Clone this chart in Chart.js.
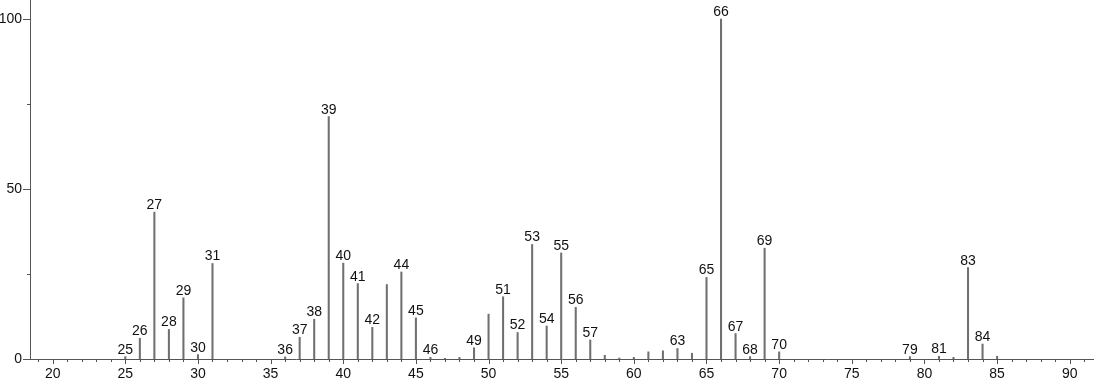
<!DOCTYPE html>
<html>
<head>
<meta charset="utf-8">
<script src="https://cdn.jsdelivr.net/npm/chart.js@4.4.1/dist/chart.umd.min.js"></script>
<style>
  html, body { margin: 0; padding: 0; background: #ffffff; }
  #wrap { width: 1094px; height: 384px; }
</style>
</head>
<body>
<div id="wrap"><canvas id="c" width="1094" height="384"></canvas></div>
<script>
// m/z values of the peaks
const mz = [25, 26, 27, 28, 29, 30, 31, 36, 37, 38, 39, 40, 41, 42, 43, 44, 45, 46, 47, 48,
            49, 50, 51, 52, 53, 54, 55, 56, 57, 58, 59, 60, 61, 62, 63, 64, 65, 66, 67, 68,
            69, 70, 79, 81, 82, 83, 84, 85];
// relative intensities (%)
const intensity = [0.7, 6.1, 43.2, 8.7, 18.0, 1.3, 28.1, 0.6, 6.4, 11.7, 71.3, 28.2, 22.2, 9.3, 21.9, 25.6, 12.1, 0.5, 0.2, 0.5,
                   3.3, 13.2, 18.3, 7.8, 33.7, 9.7, 31.2, 15.2, 5.6, 1.1, 0.3, 0.5, 2.1, 2.4, 3.1, 1.7, 24.0, 100, 7.5, 0.7,
                   32.6, 2.1, 0.7, 0.8, 0.5, 26.9, 4.4, 0.8];
// peaks that carry a label
const labeledPeaks = [25, 26, 27, 28, 29, 30, 31, 36, 37, 38, 39, 40, 41, 42, 44, 45, 46, 49, 51, 52,
                      53, 54, 55, 56, 57, 63, 65, 66, 67, 68, 69, 70, 79, 81, 83, 84];
// axis tick values
const xMajorTicks = [20, 25, 30, 35, 40, 45, 50, 55, 60, 65, 70, 75, 80, 85, 90];
const yTicks = [0, 25, 50, 75, 100];
const yLabeledTicks = [0, 50, 100];

const FONT = '"Liberation Sans", Arial, Helvetica, sans-serif';
const AXIS_COLOR = '#555555';
const TEXT_COLOR = '#111111';

function noPad(s) {
  s.paddingTop = 0; s.paddingBottom = 0; s.paddingLeft = 0; s.paddingRight = 0;
}

const tickMarks = {
  id: 'tickMarks',
  afterDraw(chart) {
    const ctx = chart.ctx;
    const xs = chart.scales.x, ys = chart.scales.y;
    const bottom = chart.chartArea.bottom, left = chart.chartArea.left;
    ctx.save();
    ctx.strokeStyle = AXIS_COLOR;
    ctx.lineWidth = 1;
    ctx.beginPath();
    for (let v = Math.ceil(xs.min); v <= Math.floor(xs.max); v++) {
      const px = Math.round(xs.getPixelForValue(v)) + 0.5;
      const len = xMajorTicks.includes(v) ? 5 : 3;
      ctx.moveTo(px, bottom);
      ctx.lineTo(px, bottom + len);
    }
    yTicks.forEach(v => {
      const py = Math.round(ys.getPixelForValue(v)) + 0.5;
      const len = yLabeledTicks.includes(v) ? 7 : 3;
      ctx.moveTo(left, py);
      ctx.lineTo(left - len, py);
    });
    ctx.stroke();
    ctx.restore();
  }
};

const peakLabels = {
  id: 'peakLabels',
  afterDatasetsDraw(chart) {
    const ctx = chart.ctx;
    const meta = chart.getDatasetMeta(0);
    ctx.save();
    ctx.font = '14px ' + FONT;
    ctx.fillStyle = TEXT_COLOR;
    ctx.textAlign = 'center';
    ctx.textBaseline = 'alphabetic';
    meta.data.forEach((bar, i) => {
      if (labeledPeaks.includes(mz[i])) {
        ctx.fillText(String(mz[i]), bar.x, bar.y - 3);
      }
    });
    ctx.restore();
  }
};

new Chart(document.getElementById('c'), {
  type: 'bar',
  data: {
    datasets: [{
      data: mz.map((m, i) => ({ x: m, y: intensity[i] })),
      backgroundColor: '#707070',
      borderWidth: 0,
      barThickness: 1.4,
      grouped: false
    }]
  },
  options: {
    responsive: false,
    animation: false,
    devicePixelRatio: 1,
    layout: { padding: 0 },
    plugins: { legend: { display: false }, tooltip: { enabled: false } },
    scales: {
      x: {
        type: 'linear',
        min: 18.44,
        max: 91.67,
        offset: false,
        grid: { display: false, drawTicks: false },
        border: { display: true, color: AXIS_COLOR, width: 1 },
        afterBuildTicks: s => { s.ticks = xMajorTicks.map(v => ({ value: v })); },
        afterFit: s => { s.height = 25; noPad(s); },
        ticks: {
          autoSkip: false,
          maxRotation: 0,
          padding: 7,
          color: TEXT_COLOR,
          font: { family: FONT, size: 14 },
          callback: v => String(v)
        }
      },
      y: {
        type: 'linear',
        min: 0,
        max: 105.6,
        grid: { display: false, drawTicks: false },
        border: { display: true, color: AXIS_COLOR, width: 1 },
        afterBuildTicks: s => { s.ticks = yLabeledTicks.map(v => ({ value: v })); },
        afterFit: s => { s.width = 30; noPad(s); },
        ticks: {
          padding: 8,
          color: TEXT_COLOR,
          font: { family: FONT, size: 14 },
          callback: v => String(v)
        }
      }
    }
  },
  plugins: [tickMarks, peakLabels]
});
</script>
</body>
</html>
